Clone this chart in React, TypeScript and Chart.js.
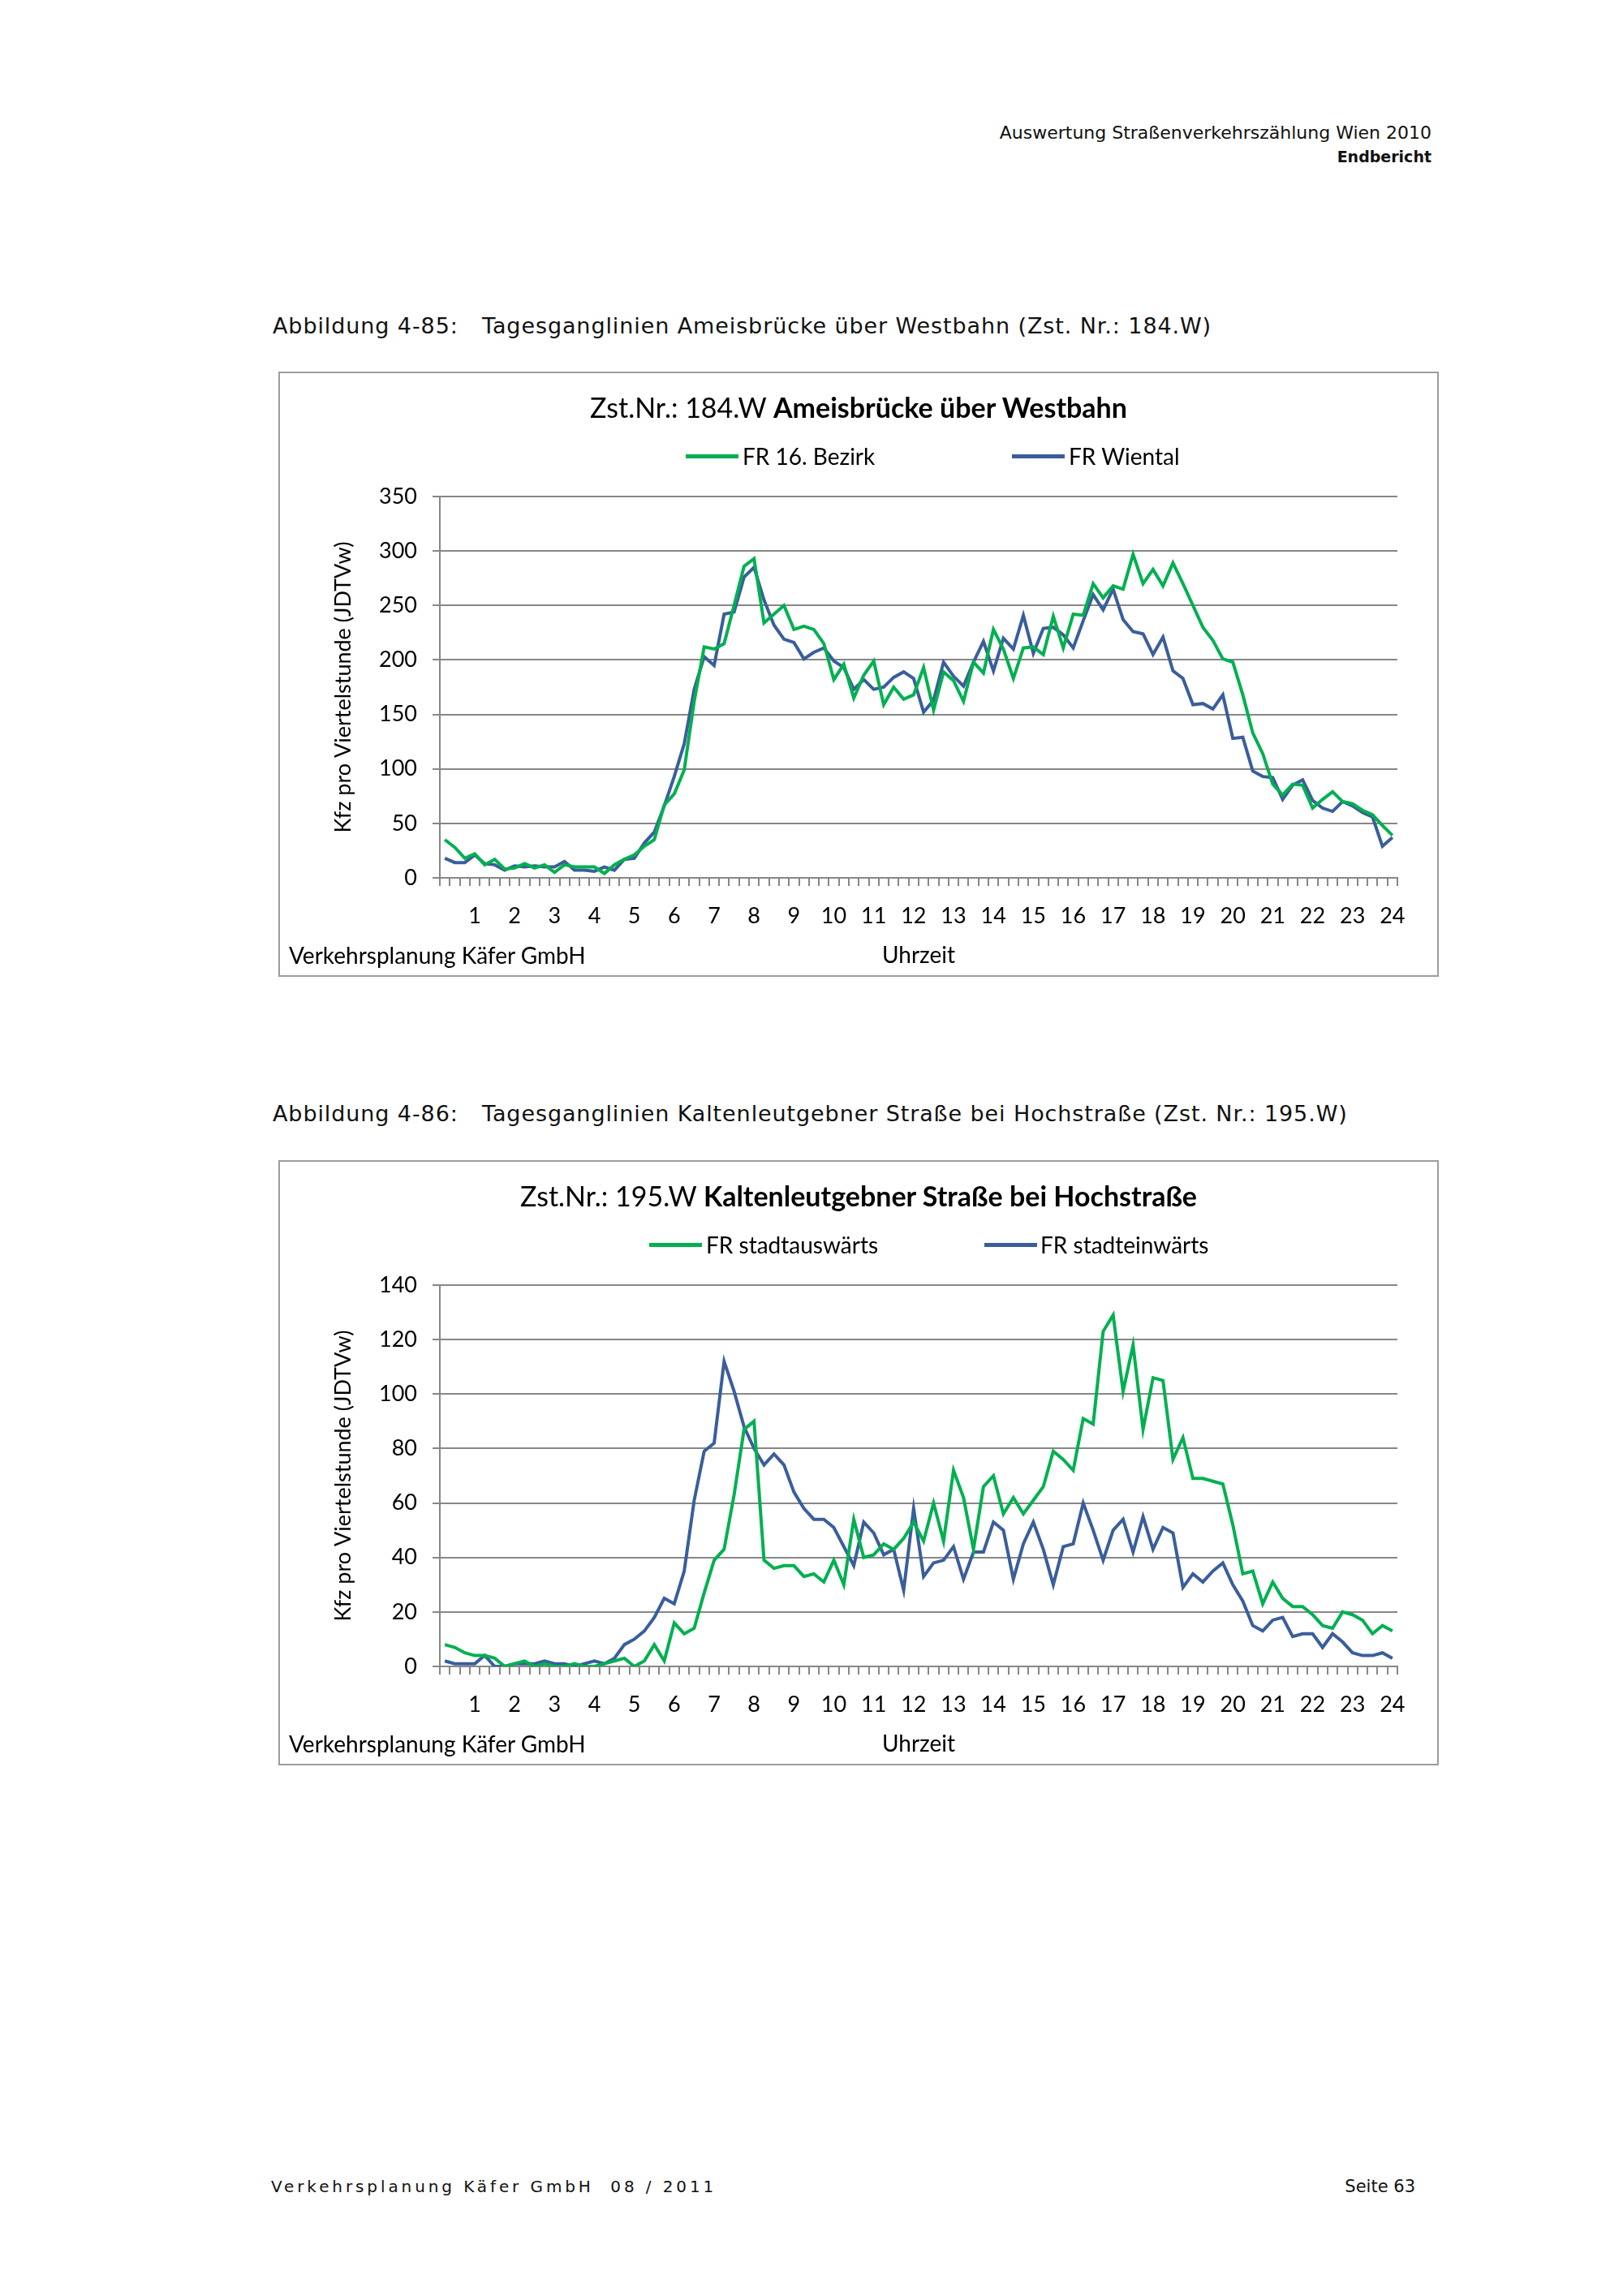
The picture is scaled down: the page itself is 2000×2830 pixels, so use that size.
import React, { useEffect, useRef } from 'react';
import { Chart, registerables } from 'chart.js';

Chart.register(...registerables);

// ---------- data ----------
const hourTicks = ['1', '2', '3', '4', '5', '6', '7', '8', '9', '10', '11', '12', '13', '14', '15', '16', '17', '18', '19', '20', '21', '22', '23', '24'];
const quarterCategories: string[] = [];
for (let h = 0; h < 24; h++) {
  for (const m of ['15', '30', '45', '00']) {
    quarterCategories.push(m === '00' ? `${h + 1}:00` : `${h}:${m}`);
  }
}

// Zst. 184.W Ameisbrücke über Westbahn
const fr16Bezirk = [
  35, 28, 18, 22, 12, 17, 8, 9, 13, 9, 12, 5, 12, 10, 10, 10, 4, 12, 17, 21, 29, 35, 67, 77,
  99, 162, 212, 210, 215, 250, 286, 293, 234, 242, 250, 228, 231, 228, 215, 182, 196, 165, 186, 199, 159, 175, 164, 168,
  193, 154, 189, 181, 162, 198, 188, 228, 210, 183, 211, 212, 205, 240, 211, 242, 241, 270, 257, 268, 265, 297, 270, 283,
  268, 289, 270, 250, 230, 218, 201, 198, 168, 133, 114, 86, 76, 86, 85, 64, 72, 79, 70, 68, 62, 58, 48, 39,
];
const frWiental = [
  18, 14, 14, 21, 13, 12, 7, 11, 10, 11, 10, 10, 15, 7, 7, 6, 10, 7, 17, 18, 32, 42, 66, 93,
  123, 173, 203, 195, 242, 244, 276, 285, 255, 232, 219, 216, 201, 207, 211, 199, 193, 173, 182, 173, 175, 184, 189, 183,
  152, 163, 198, 185, 176, 198, 217, 190, 220, 210, 241, 206, 229, 230, 223, 211, 236, 260, 246, 265, 237, 226, 224, 205,
  221, 190, 183, 159, 160, 155, 168, 128, 129, 98, 93, 92, 72, 85, 90, 71, 64, 61, 70, 66, 60, 56, 29, 37,
];

// Zst. 195.W Kaltenleutgebner Straße bei Hochstraße
const frStadtauswaerts = [
  8, 7, 5, 4, 4, 3, 0, 1, 2, 0, 1, 0, 0, 1, 0, 0, 1, 2, 3, 0, 2, 8, 2, 16,
  12, 14, 27, 39, 43, 63, 87, 90, 39, 36, 37, 37, 33, 34, 31, 39, 30, 54, 40, 41, 45, 43, 47, 53,
  46, 60, 46, 72, 62, 43, 66, 70, 56, 62, 56, 61, 66, 79, 76, 72, 91, 89, 123, 129, 101, 118, 87, 106,
  105, 76, 84, 69, 69, 68, 67, 52, 34, 35, 23, 31, 25, 22, 22, 19, 15, 14, 20, 19, 17, 12, 15, 13,
];
const frStadteinwaerts = [
  2, 1, 1, 1, 4, 0, 0, 1, 1, 1, 2, 1, 1, 0, 1, 2, 1, 3, 8, 10, 13, 18, 25, 23,
  35, 61, 79, 82, 112, 101, 88, 80, 74, 78, 74, 64, 58, 54, 54, 51, 44, 37, 53, 49, 41, 43, 28, 58,
  33, 38, 39, 44, 32, 42, 42, 53, 50, 32, 45, 53, 43, 30, 44, 45, 60, 50, 39, 50, 54, 42, 55, 43,
  51, 49, 29, 34, 31, 35, 38, 30, 24, 15, 13, 17, 18, 11, 12, 12, 7, 12, 9, 5, 4, 4, 5, 3,
];

// ---------- styles ----------
const GREEN = '#00B050';
const BLUE = '#3A5E9C';
const GRID = '#878787';
const CHART_FONT = 'Lato, Calibri, sans-serif';
const PAGE_FONT = '"DejaVu Sans", sans-serif';

type PanelProps = {
  top: number;
  titleNormal: string;
  titleBold: string;
  labelA: string;
  labelB: string;
  dataA: number[];
  dataB: number[];
  yMax: number;
  yStep: number;
  legendPos: { lineA: number; textA: number; lineB: number; textB: number };
};

function Panel(p: PanelProps) {
  const ref = useRef<HTMLCanvasElement | null>(null);
  useEffect(() => {
    if (!ref.current) return;
    const chart = new Chart(ref.current, {
      type: 'line',
      data: {
        labels: quarterCategories,
        datasets: [
          { label: p.labelA, data: p.dataA, borderColor: GREEN, backgroundColor: GREEN, borderWidth: 4, pointRadius: 0, tension: 0 },
          { label: p.labelB, data: p.dataB, borderColor: BLUE, backgroundColor: BLUE, borderWidth: 4, pointRadius: 0, tension: 0 },
        ],
      },
      options: {
        responsive: false,
        animation: false,
        devicePixelRatio: 1,
        layout: { padding: { left: 0, right: 49, top: 152, bottom: 0 } },
        plugins: { legend: { display: false }, title: { display: false }, tooltip: { enabled: false } },
        scales: {
          x: {
            type: 'category',
            offset: true,
            grid: { offset: true, drawOnChartArea: false, drawTicks: true, tickLength: 10, color: GRID, lineWidth: 2 },
            border: { display: true, color: GRID, width: 2 },
            ticks: {
              autoSkip: false,
              maxRotation: 0,
              minRotation: 0,
              padding: 21,
              color: '#000',
              font: { family: CHART_FONT, size: 27 },
              callback: (_v: any, i: number) => (i % 4 === 3 ? hourTicks[(i - 3) / 4] : ''),
            },
            title: {
              display: true,
              text: 'Uhrzeit',
              color: '#000',
              font: { family: CHART_FONT, size: 28 },
              padding: { top: 0, bottom: 7 },
            },
            afterFit: (s: any) => {
              s.height = 120;
            },
          },
          y: {
            min: 0,
            max: p.yMax,
            ticks: { stepSize: p.yStep, padding: 19, color: '#000', font: { family: CHART_FONT, size: 27 } },
            grid: { color: GRID, lineWidth: 2, tickLength: 9 },
            border: { display: true, color: GRID, width: 2 },
            title: {
              display: true,
              text: 'Kfz pro Viertelstunde (JDTVw)',
              color: '#000',
              font: { family: CHART_FONT, size: 27 },
              padding: { top: 62, bottom: 0 },
            },
            afterFit: (s: any) => {
              s.width = 197;
            },
          },
        },
      } as any,
    });
    return () => chart.destroy();
  }, []);

  const lg = p.legendPos;
  const legendText: React.CSSProperties = {
    position: 'absolute',
    top: 102,
    transform: 'translateY(-50%)',
    fontFamily: CHART_FONT,
    fontSize: 28,
    lineHeight: 1,
    color: '#000',
    whiteSpace: 'nowrap',
  };
  const swatch = (left: number, color: string): React.CSSProperties => ({
    position: 'absolute',
    left,
    top: 100,
    width: 65,
    height: 5,
    background: color,
  });

  return (
    <div
      style={{
        position: 'absolute',
        left: 343,
        top: p.top,
        width: 1430,
        height: 746,
        boxSizing: 'border-box',
        border: '2px solid #9d9d9d',
        background: '#fff',
      }}
    >
      <canvas ref={ref} width={1426} height={742} style={{ position: 'absolute', left: 0, top: 0, width: 1426, height: 742 }} />
      <div
        style={{
          position: 'absolute',
          left: 0,
          width: 1426,
          top: 42,
          transform: 'translateY(-50%)',
          textAlign: 'center',
          fontFamily: CHART_FONT,
          fontSize: 34,
          lineHeight: 1,
          color: '#000',
          whiteSpace: 'nowrap',
        }}
      >
        {p.titleNormal} <b>{p.titleBold}</b>
      </div>
      <div style={swatch(lg.lineA, GREEN)} />
      <div style={{ ...legendText, left: lg.textA }}>{p.labelA}</div>
      <div style={swatch(lg.lineB, BLUE)} />
      <div style={{ ...legendText, left: lg.textB }}>{p.labelB}</div>
      <div
        style={{
          position: 'absolute',
          left: 11,
          top: 717,
          transform: 'translateY(-50%)',
          fontFamily: CHART_FONT,
          fontSize: 28,
          lineHeight: 1,
          color: '#000',
          whiteSpace: 'nowrap',
        }}
      >
        Verkehrsplanung Käfer GmbH
      </div>
    </div>
  );
}

const pageText = (extra: React.CSSProperties): React.CSSProperties => ({
  position: 'absolute',
  transform: 'translateY(-50%)',
  fontFamily: PAGE_FONT,
  lineHeight: 1,
  color: '#111',
  whiteSpace: 'pre',
  ...extra,
});

export default function App() {
  return (
    <div style={{ position: 'absolute', left: 0, top: 0, width: 2000, height: 2830, background: '#fff', overflow: 'hidden' }}>
      <div style={pageText({ right: 236, top: 164, fontSize: 22 })}>Auswertung Straßenverkehrszählung Wien 2010</div>
      <div style={pageText({ right: 236, top: 193, fontSize: 19, fontWeight: 'bold' })}>Endbericht</div>

      <div style={pageText({ left: 336, top: 401, fontSize: 27, letterSpacing: 0.9 })}>Abbildung 4-85:</div>
      <div style={pageText({ left: 594, top: 401, fontSize: 27, letterSpacing: 0.9 })}>
        Tagesganglinien Ameisbrücke über Westbahn (Zst. Nr.: 184.W)
      </div>
      <Panel
        top={458}
        titleNormal="Zst.Nr.: 184.W"
        titleBold="Ameisbrücke über Westbahn"
        labelA="FR 16. Bezirk"
        labelB="FR Wiental"
        dataA={fr16Bezirk}
        dataB={frWiental}
        yMax={350}
        yStep={50}
        legendPos={{ lineA: 500, textA: 570, lineB: 902, textB: 972 }}
      />

      <div style={pageText({ left: 336, top: 1372, fontSize: 27, letterSpacing: 0.9 })}>Abbildung 4-86:</div>
      <div style={pageText({ left: 594, top: 1372, fontSize: 27, letterSpacing: 0.9 })}>
        Tagesganglinien Kaltenleutgebner Straße bei Hochstraße (Zst. Nr.: 195.W)
      </div>
      <Panel
        top={1430}
        titleNormal="Zst.Nr.: 195.W"
        titleBold="Kaltenleutgebner Straße bei Hochstraße"
        labelA="FR stadtauswärts"
        labelB="FR stadteinwärts"
        dataA={frStadtauswaerts}
        dataB={frStadteinwaerts}
        yMax={140}
        yStep={20}
        legendPos={{ lineA: 455, textA: 525, lineB: 868, textB: 937 }}
      />

      <div style={pageText({ left: 334, top: 2695, fontSize: 20, letterSpacing: 3.9 })}>Verkehrsplanung Käfer GmbH  08 / 2011</div>
      <div style={pageText({ right: 256, top: 2695, fontSize: 21 })}>Seite 63</div>
    </div>
  );
}
